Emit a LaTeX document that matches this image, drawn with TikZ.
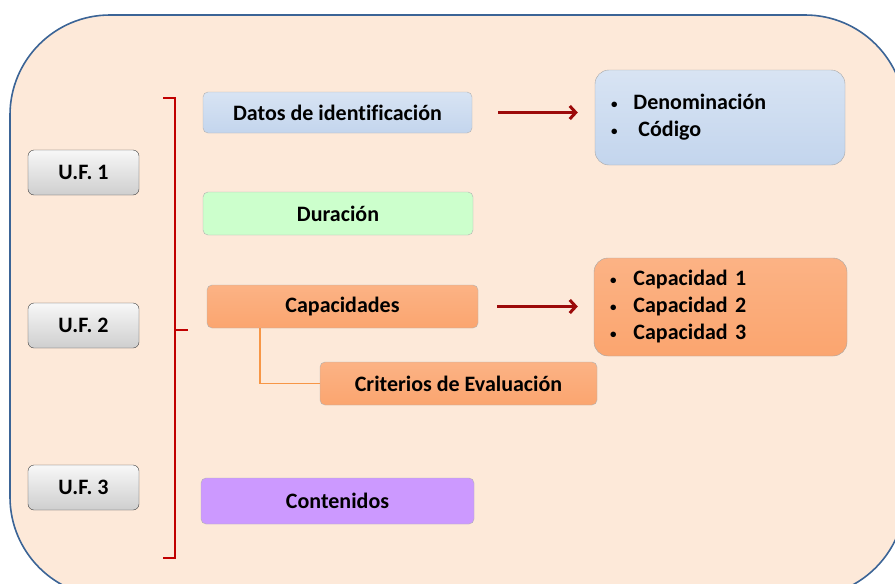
\documentclass[tikz,border=0pt]{standalone}
\usepackage{fontspec}
\setmainfont{Carlito}[Ligatures=NoCommon]
\usetikzlibrary{arrows.meta}
\definecolor{bgpeach}{HTML}{FDE9D9}
\definecolor{framebl}{HTML}{3B6496}
\definecolor{idblue}{HTML}{C3D5ED}
\definecolor{durgreen}{HTML}{CCFFCC}
\definecolor{capor}{HTML}{FBA56F}
\definecolor{contlil}{HTML}{CC99FF}
\definecolor{brkred}{HTML}{C00000}
\definecolor{arrred}{HTML}{9C0A0A}
\definecolor{lineor}{HTML}{F79646}
\newcommand{\itembul}{\raisebox{1.5pt}{\fontsize{13}{13}\selectfont\textbullet}}
\begin{document}
\begin{tikzpicture}[x=1pt,y=-1pt,
	boxfont/.style={font=\bfseries\fontsize{22}{27}\selectfont},
	uf/.style={boxfont,draw=black!75,rounded corners=6pt,top color=gray!6,bottom color=gray!38,minimum width=111pt,minimum height=45pt},
	item/.style={boxfont,draw=black!30,rounded corners=5pt,inner sep=0pt},
	itemlist/.style={boxfont,draw=black!35,rounded corners=14pt,align=left,inner xsep=16pt},
	fat arrow/.style={arrred,line width=3pt,-{Straight Barb[length=6pt,width=13pt]}}]
	\useasboundingbox (0,0) rectangle (895,584);
	\clip (0,0) rectangle (895,584);
	\draw[framebl,line width=1.6pt,fill=bgpeach,rounded corners=100pt] (10,15) rectangle (905,597);
	% unidades formativas
	\node[uf] (uf1) at (83.5,172.5) {U.F. 1};
	\node[uf] (uf2) at (83.5,325.5) {U.F. 2};
	\node[uf] (uf3) at (83.5,487.5) {U.F. 3};
	\draw[brkred,line width=2pt] (163,98) -- (175,98) -- (175,558) -- (163,558);
	\draw[brkred,line width=2pt] (175,330) -- (188,330);
	% apartados
	\node[item,top color=idblue!65,bottom color=idblue,minimum width=269pt,minimum height=41pt] (datos) at (337.5,112.5) {Datos de identificación};
	\node[item,fill=durgreen,minimum width=270pt,minimum height=43pt] (dur) at (338,213.5) {Duración};
	\node[item,top color=capor!85,bottom color=capor,minimum width=271pt,minimum height=43pt] (capac) at (342.5,306.5) {Capacidades};
	\node[item,top color=capor!85,bottom color=capor,minimum width=277pt,minimum height=43pt] (crit) at (458.5,383.5) {Criterios de Evaluación};
	\node[item,fill=contlil,minimum width=273pt,minimum height=46pt] (cont) at (337.5,501) {Contenidos};
	% listas
	\node[itemlist,top color=idblue!65,bottom color=idblue,text width=218pt,minimum height=95pt] (denom) at (720,117.5) {\itembul\hspace{16pt}Denominación\\ \itembul\hspace{21pt}Código};
	\node[itemlist,top color=capor!85,bottom color=capor,text width=221pt,minimum height=98pt] (caplist) at (720.5,307) {\itembul\hspace{17pt}Capacidad 1\\ \itembul\hspace{17pt}Capacidad 2\\ \itembul\hspace{17pt}Capacidad 3};
	\draw[fat arrow,shorten <=26pt,shorten >=17pt] (datos.east) -- (datos.east -| denom.west);
	\draw[fat arrow,shorten <=19pt,shorten >=16pt] (capac.east) -- (capac.east -| caplist.west);
	\draw[lineor,line width=1.5pt] ([xshift=53pt]capac.south west) |- (crit.west);
\end{tikzpicture}
\end{document}
